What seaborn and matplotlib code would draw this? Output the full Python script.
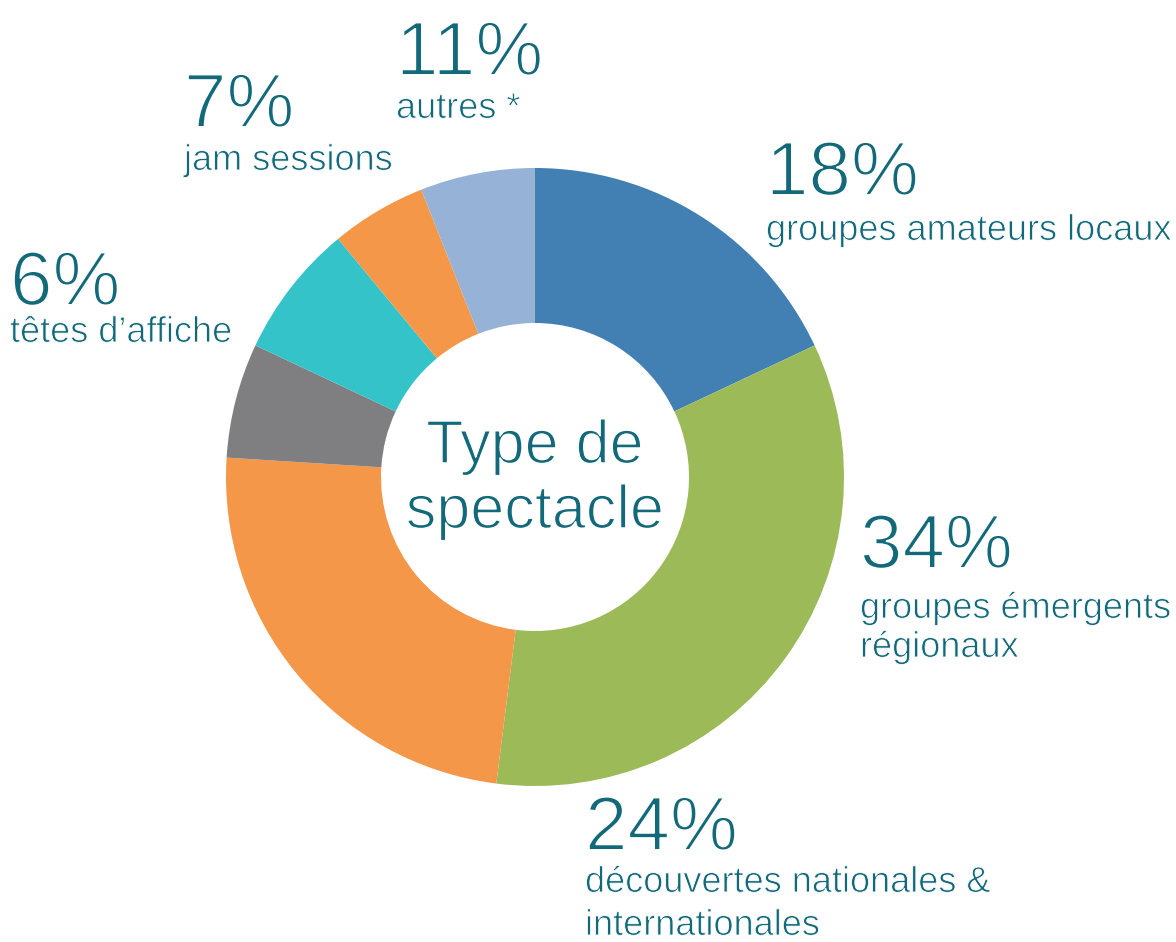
import matplotlib
matplotlib.use("Agg")
import matplotlib.pyplot as plt
import matplotlib.patheffects as pe
import seaborn as sns

# slices, clockwise from the top
slice_values = [18, 34, 24, 6, 7, 5, 6]
slice_colors = ["#4280B3", "#9CBB58", "#F59748", "#7F7E81", "#34C3C9", "#F59748", "#96B2D6"]

pct_labels = ["18%", "34%", "24%", "6%", "7%", "11%"]
cat_labels = [["groupes amateurs locaux"], ["groupes émergents", "régionaux"],
              ["découvertes nationales &", "internationales"], ["têtes d\u2019affiche"],
              ["jam sessions"], ["autres *"]]
center_lines = ["Type de", "spectacle"]

sns.set_theme(style="white")
plt.rcParams["font.family"] = ["Liberation Sans", "DejaVu Sans"]
txt = "#12697A"


def thin(lw):
    # white outline over the glyph edge, to get a lighter weight
    return [pe.Stroke(linewidth=lw, foreground="white")]


W, H = 1176, 942
fig = plt.figure(figsize=(W / 100, H / 100), dpi=100)
ax = fig.add_axes([0, 0, 1, 1])

ax.pie(slice_values, colors=slice_colors, startangle=90, counterclock=False,
       center=(535, H - 477), radius=309,
       wedgeprops=dict(width=155, linewidth=0))
ax.set_xlim(0, W)
ax.set_ylim(0, H)
ax.set_aspect("equal")
ax.axis("off")

for line, yb in zip(center_lines, [463, 528]):
    ax.text(535, H - yb, line, ha="center", va="baseline", fontsize=44, color=txt,
            path_effects=thin(1.1))

# (x, baseline of percent, baselines of label lines) in pixels
pos = [(766, 195, [240]), (860, 568, [618, 657]), (585, 850, [892, 935]),
       (10, 305, [342]), (184, 127, [170]), (396, 75, [118])]
for (x, yp, yls), p, lines in zip(pos, pct_labels, cat_labels):
    ax.text(x, H - yp, p, ha="left", va="baseline", fontsize=55, color=txt,
            path_effects=thin(1.4))
    for line, yl in zip(lines, yls):
        ax.text(x, H - yl, line, ha="left", va="baseline", fontsize=26, color=txt,
                path_effects=thin(0.6))

fig.savefig("out.png", dpi=100)
